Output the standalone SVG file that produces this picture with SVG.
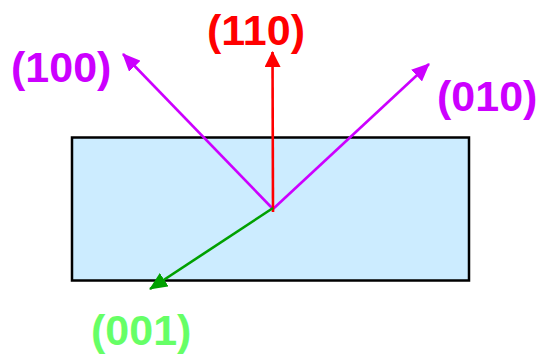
<svg xmlns="http://www.w3.org/2000/svg" width="536" height="357" viewBox="0 0 536 357">
<style>
text{font-family:"Liberation Sans",Arial,sans-serif;font-weight:bold;font-size:43px}
.p{fill:#CC00FF}
.ln{fill:none;stroke-width:2.6}
</style>
<defs>
<marker id="ar" markerWidth="16" markerHeight="16" refX="15" refY="8" orient="auto" markerUnits="userSpaceOnUse" viewBox="0 0 16 16"><path d="M0,0L16,8L0,16z" fill="#FF0000"/></marker>
<marker id="ag" markerWidth="18" markerHeight="16" refX="17" refY="8" orient="auto" markerUnits="userSpaceOnUse" viewBox="0 0 18 16"><path d="M0,0L18,8L0,16z" fill="#00A000"/></marker>
<marker id="apl" markerWidth="18" markerHeight="16" refX="17" refY="8" orient="auto" markerUnits="userSpaceOnUse" viewBox="0 0 18 16"><path d="M0,0L18,8L0,16z" fill="#CC00FF"/></marker>
</defs>
<g id="crystal"><rect x="72" y="137.5" width="397" height="143" fill="#CCECFF" stroke="#000" stroke-width="2.5"/></g>
<g id="connectors">
<line class="ln" x1="273" y1="209" x2="123" y2="54" stroke="#CC00FF" marker-end="url(#apl)"/>
<line class="ln" x1="273" y1="209" x2="429" y2="64" stroke="#CC00FF" marker-end="url(#apl)"/>
<line class="ln" x1="273" y1="212" x2="272.5" y2="52" stroke="#FF0000" marker-end="url(#ar)"/>
<line class="ln" x1="273" y1="208" x2="150" y2="289" stroke="#00A000" marker-end="url(#ag)"/>
</g>
<g id="l100"><text class="p" x="11" y="82">(100)</text></g>
<g id="l110"><text x="207" y="45" fill="#FF0000">(110)</text></g>
<g id="l010"><text class="p" x="437" y="111">(010)</text></g>
<g id="l001"><text x="91" y="345" fill="#66FF66">(001)</text></g>
</svg>
